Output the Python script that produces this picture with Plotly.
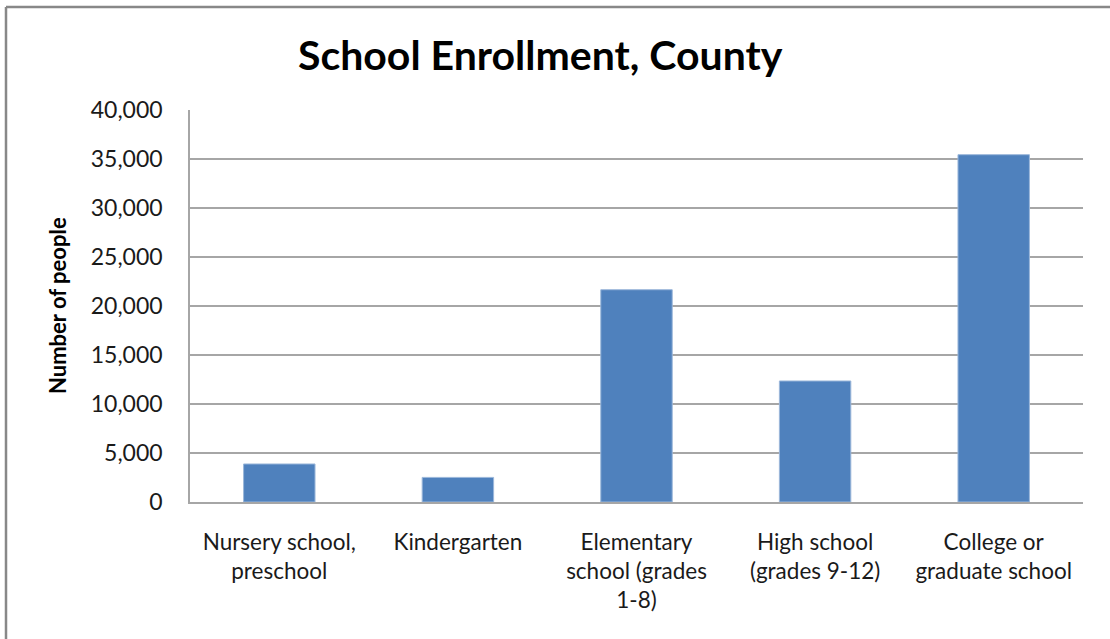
import plotly.graph_objects as go

categories = [
    "Nursery school,<br>preschool",
    "Kindergarten",
    "Elementary<br>school (grades<br>1-8)",
    "High school<br>(grades 9-12)",
    "College or<br>graduate school",
]
enrollment = [3880, 2510, 21660, 12350, 35440]
tick_vals = [0, 5000, 10000, 15000, 20000, 25000, 30000, 35000, 40000]
tick_text = ["0", "5,000", "10,000", "15,000", "20,000", "25,000", "30,000", "35,000", "40,000"]

FONT = "Lato"
GRID = "#a6a6a6"
TXT = "#1a1a1a"

fig = go.Figure(go.Bar(
    x=categories, y=enrollment,
    marker=dict(color="#4f81bd", line=dict(color="#9bb7da", width=1)),
    width=0.4,
))

L, R, T, B = 190, 27, 110, 137
W, H = 1110, 639
pw, ph = W - L - R, H - T - B

def px_x(p):
    return (p - L) / pw

def px_y(p):
    return (H - B - p) / ph

fig.update_layout(
    width=W, height=H,
    margin=dict(l=L, r=R, t=T, b=B, pad=0),
    paper_bgcolor="white", plot_bgcolor="white",
    showlegend=False,
    font=dict(family=FONT, size=22, color=TXT),
    xaxis=dict(
        showline=True, linecolor=GRID, linewidth=1.5,
        ticks="", showgrid=False,
        tickfont=dict(family=FONT, size=22.5, color=TXT),
        ticklabelstandoff=19,
    ),
    yaxis=dict(
        range=[0, 40000], tickvals=tick_vals, ticktext=tick_text,
        showline=True, linecolor=GRID, linewidth=1.5,
        showgrid=True, gridcolor=GRID, gridwidth=1.5,
        zeroline=False, ticks="",
        tickfont=dict(family=FONT, size=23, color=TXT),
        ticklabelstandoff=21,
    ),
    annotations=[
        dict(text="<b>School Enrollment, County</b>", xref="paper", yref="paper",
             x=px_x(540), y=px_y(54), xanchor="center", yanchor="middle",
             showarrow=False, font=dict(family=FONT, size=41, color="black")),
        dict(text="<b>Number of people</b>", xref="paper", yref="paper",
             x=px_x(57), y=px_y(306), xanchor="center", yanchor="middle",
             textangle=-90, showarrow=False,
             font=dict(family=FONT, size=22, color="black")),
    ],
    shapes=[
        dict(type="line", xref="paper", yref="paper",
             x0=px_x(6), x1=px_x(1115), y0=px_y(7), y1=px_y(7),
             line=dict(color="#888888", width=2.5)),
        dict(type="line", xref="paper", yref="paper",
             x0=px_x(6), x1=px_x(6), y0=px_y(7), y1=px_y(645),
             line=dict(color="#888888", width=2.5)),
    ],
)

fig.write_html("out.html", config={"displayModeBar": False},
               post_script="document.body.style.margin='0';")
